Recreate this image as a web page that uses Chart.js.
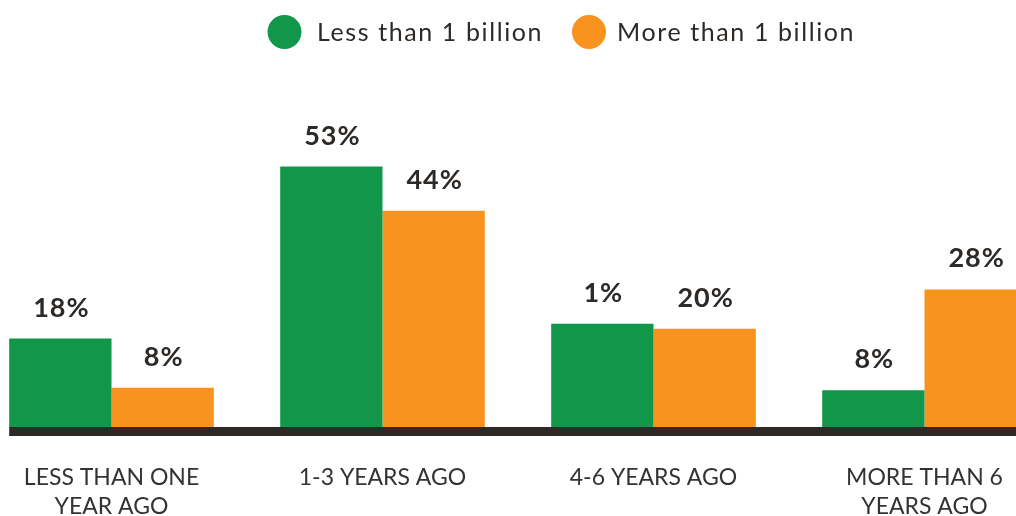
<!DOCTYPE html>
<html>
<head>
<meta charset="utf-8">
<script src="https://cdn.jsdelivr.net/npm/chart.js@4/dist/chart.umd.min.js"></script>
<style>
  html, body { margin: 0; padding: 0; background: #fff; overflow: hidden; }
  #wrap { position: absolute; left: -24px; top: 0; width: 1084px; height: 516px; }
</style>
</head>
<body>
<div id="wrap"><canvas id="myChart" width="1084" height="516"></canvas></div>
<script>
// categories along the x axis
var categories = [['LESS THAN ONE', 'YEAR AGO'], '1-3 YEARS AGO', '4-6 YEARS AGO', ['MORE THAN 6', 'YEARS AGO']]
// bar heights (% of respondents)
var lessThanBillion = [18, 53, 21, 7.5]
var moreThanBillion = [8, 44, 20, 28]
// value labels printed above the bars (as in the source, incl. its "1%")
var lessThanBillionLabels = ['18%', '53%', '1%', '8%']
var moreThanBillionLabels = ['8%', '44%', '20%', '28%']
var seriesNames = ['Less than 1 billion', 'More than 1 billion']

var green = '#12964a'
var orange = '#f7931e'
var dark = '#2d2926'
var fontFamily = 'Lato, "Open Sans", sans-serif'

var valueLabels = {
  id: 'valueLabels',
  afterDatasetsDraw: function(chart) {
    var ctx = chart.ctx
    var lists = [lessThanBillionLabels, moreThanBillionLabels]
    ctx.save()
    ctx.font = 'bold 27px ' + fontFamily
    ctx.letterSpacing = '1px'
    ctx.fillStyle = dark
    ctx.textAlign = 'center'
    ctx.textBaseline = 'alphabetic'
    chart.data.datasets.forEach(function(ds, i) {
      chart.getDatasetMeta(i).data.forEach(function(bar, j) {
        ctx.fillText(lists[i][j], bar.x + 1, bar.y - 22)
      })
    })
    ctx.restore()
  }
}

var baseLine = {
  id: 'baseLine',
  afterDatasetsDraw: function(chart) {
    var ctx = chart.ctx
    var first = chart.getDatasetMeta(0).data[0]
    var left = first.x - first.width / 2
    ctx.save()
    ctx.fillStyle = dark
    ctx.fillRect(left, chart.chartArea.bottom, chart.width - left, 9)
    ctx.restore()
  }
}

var topLegend = {
  id: 'topLegend',
  afterDraw: function(chart) {
    var ctx = chart.ctx
    var colors = [green, orange]
    var circleX = [308.5, 613]
    var textX = [341, 641]
    ctx.save()
    ctx.font = '25px ' + fontFamily
    ctx.letterSpacing = '1.6px'
    ctx.textBaseline = 'alphabetic'
    ctx.textAlign = 'left'
    seriesNames.forEach(function(name, i) {
      ctx.fillStyle = colors[i]
      ctx.beginPath()
      ctx.arc(circleX[i], 32, 17, 0, Math.PI * 2)
      ctx.fill()
      ctx.fillStyle = dark
      ctx.fillText(name, textX[i], 41)
    })
    ctx.restore()
  }
}

var ctx = document.getElementById('myChart')
var myBarChart = new Chart(ctx, {
  type: 'bar',
  data: {
    labels: categories,
    datasets: [{
      label: seriesNames[0],
      data: lessThanBillion,
      backgroundColor: green,
      borderWidth: 0
    }, {
      label: seriesNames[1],
      data: moreThanBillion,
      backgroundColor: orange,
      borderWidth: 0
    }]
  },
  options: {
    responsive: false,
    animation: false,
    devicePixelRatio: 1,
    layout: { padding: { top: 83, left: 0, right: 0, bottom: 0 } },
    datasets: {
      bar: { categoryPercentage: 0.755, barPercentage: 1 }
    },
    plugins: {
      legend: { display: false },
      tooltip: { enabled: false }
    },
    scales: {
      x: {
        grid: { display: false, drawTicks: false },
        border: { display: false },
        afterFit: function(scale) { scale.height = 89 },
        ticks: {
          padding: 36,
          maxRotation: 0,
          autoSkip: false,
          color: '#333333',
          font: { family: fontFamily, size: 23, lineHeight: 1.25 }
        }
      },
      y: {
        display: false,
        min: 0,
        max: 70
      }
    }
  },
  plugins: [valueLabels, baseLine, topLegend]
})
</script>
</body>
</html>
